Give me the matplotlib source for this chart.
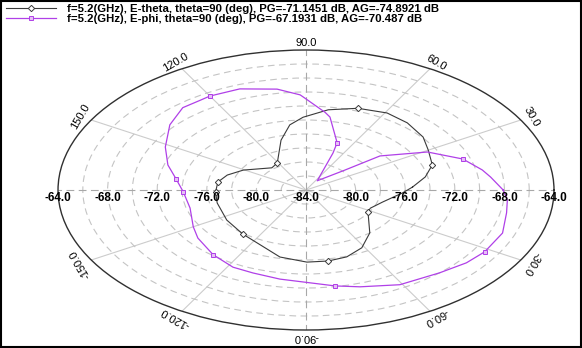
import numpy as np
import matplotlib
matplotlib.use("Agg")
from matplotlib import pyplot as plt
from matplotlib.patches import Rectangle

# E-theta trace: angle (deg) and gain (dB)
etheta_deg = [2.8, 11, 19.4, 30.2, 38.7, 49.6, 59.3, 70.3, 81.1, 91.3, 98, 105.8,
              121, 131, 150.6, 161.4, 170.9, 182.2, 194.5, 213.9, 231, 248.3, 257.6,
              270.4, 280, 289, 298.6, 310, 327.9, 333.4, 344.3, 357]
etheta_db = [-75.4, -74.2, -73.2, -72.6, -71.9, -71.4, -71.2, -71.6, -72.4, -73.6,
             -74.6, -76.6, -79.5, -79.8, -78.2, -77.3, -76.8, -76.7, -76.6, -76.3,
             -75.9, -75.1, -74.2, -73.7, -73.7, -73.9, -74.6, -76.0, -78.1, -78.2,
             -77.6, -76.2]
etheta_marks = [2, 7, 12, 16, 17, 20, 24, 28]

# E-phi trace
ephi_deg = [0, 7.1, 11.4, 19.3, 29, 39.2, 42.3, 55.5, 67.6, 69.6, 79.5, 82.1, 91, 92,
            99.2, 110.3, 120, 123.6, 130.2, 139.7, 151.6, 162.2, 171.4, 181.6, 195.4,
            210, 218.2, 231, 241.9, 250.2, 260.6, 279.7, 287.5, 299.2, 312.3, 321.2,
            328.5, 338.8, 348.6, 355]
ephi_db = [-68.1, -69.0, -69.5, -70.6, -72.8, -76.3, -79.8, -82.4, -78.3, -76.8,
           -73.4, -72.8, -70.7, -70.4, -69.4, -68.6, -68.5, -68.6, -68.6, -69.6,
           -71.1, -72.3, -73.4, -74.1, -74.3, -73.5, -72.9, -72.1, -71.5, -71.4,
           -71.1, -70.1, -69.5, -68.5, -68.0, -67.4, -67.1, -67.0, -67.5, -67.7]
ephi_marks = [3, 9, 16, 22, 23, 27, 31, 36]

legend_labels = [
    "f=5.2(GHz), E-theta, theta=90 (deg), PG=-71.1451 dB, AG=-74.8921 dB",
    "f=5.2(GHz), E-phi, theta=90 (deg), PG=-67.1931 dB, AG=-70.487 dB",
]

r_min, r_max = -84, -64
r_label_values = [-84, -80, -76, -72, -68, -64]
theta_label_values = [30, 60, 90, 120, 150, -150, -120, -90, -60, -30]

FONT = "Liberation Sans"


def closed(deg: list, db: list) -> tuple[np.ndarray, np.ndarray]:
    th = np.deg2rad(np.append(deg, deg[0]))
    r = np.append(db, db[0])
    return th, r


fig = plt.figure(figsize=(5.82, 3.48), dpi=100)
fig.patch.set_facecolor("white")
fig.patches.append(Rectangle((0.001, 0.002), 0.997, 0.995, transform=fig.transFigure,
                             fill=False, edgecolor="black", linewidth=1.5))

ax = fig.add_axes([0.0997, 0.0517, 0.8522, 0.8046], projection="polar")
ax.set_aspect("auto")
ax.set_ylim(r_min, r_max)

# grid
ax.set_yticks(np.arange(-82, -64, 2))
ax.set_yticklabels([])
ax.set_xticks(np.deg2rad([30, 60, 120, 150, 210, 240, 300, 330]))
ax.set_xticklabels([])
ax.tick_params(length=0)
ax.yaxis.grid(True, color="#c4c4c4", linewidth=0.8, linestyle=(0, (6, 4)))
ax.xaxis.grid(True, color="#cccccc", linewidth=0.8, linestyle="-")
for a in [0, 90, 180, 270]:
    ax.axvline(np.deg2rad(a), color="#a8a8a8", linewidth=0.8, linestyle=(0, (7, 4)))
ax.spines["polar"].set_color("#303030")
ax.spines["polar"].set_linewidth(1.0)

# traces
th, r = closed(etheta_deg, etheta_db)
l1, = ax.plot(th, r, color="#3a3a3a", linewidth=0.8, marker="D", markersize=3.2,
              markerfacecolor="white", markeredgewidth=0.7, markevery=etheta_marks)
th, r = closed(ephi_deg, ephi_db)
l2, = ax.plot(th, r, color="#b040e8", linewidth=0.9, marker="s", markersize=3.2,
              markerfacecolor="#e6bff5", markeredgewidth=0.7, markevery=ephi_marks)

# radial labels along horizontal axis
for v in r_label_values:
    sides = [0] if v == r_min else [0, np.pi]
    for s in sides:
        ax.annotate(f"{v:.1f}", xy=(s, v), xytext=(0, -1.5), textcoords="offset points",
                    ha="center", va="top", fontsize=8.5, fontweight="bold",
                    family=FONT, annotation_clip=False)

# angular labels, rotated along the rim
for a in theta_label_values:
    ax.text(np.deg2rad(a), -63.0, f"{a:.1f}", rotation=a - 90, rotation_mode="anchor",
            ha="center", va="center", fontsize=8, family=FONT, clip_on=False)

fig.legend([l1, l2], legend_labels, loc="upper left", bbox_to_anchor=(-0.004, 1.012),
           frameon=False, prop={"family": FONT, "size": 8.2, "weight": "bold"},
           handlelength=4.4, handletextpad=1.0, labelspacing=0.05, borderpad=0.2,
           markerscale=1.0)

fig.savefig("out.png", dpi=100)
